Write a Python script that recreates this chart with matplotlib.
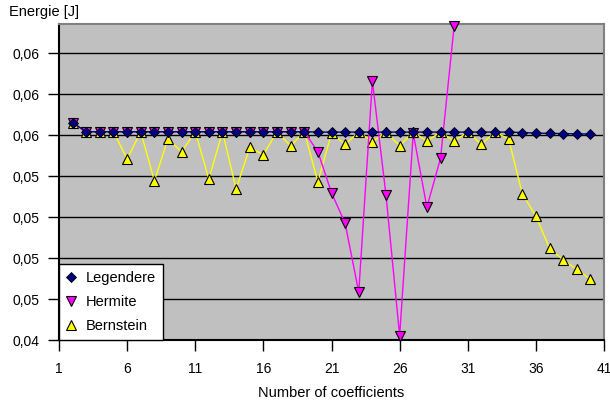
import matplotlib.pyplot as plt
from matplotlib.lines import Line2D

plt.rcParams['font.family'] = ['Liberation Sans', 'DejaVu Sans']

# data
n_leg = list(range(2, 41))
legendre = [0.05575] + [0.05520] * 17 + [0.05518] * 15 + [0.05515, 0.05512, 0.05510, 0.05509, 0.05507, 0.05506]

n_her = list(range(2, 31))
hermite = [0.05575] + [0.05520] * 17 + [0.05398, 0.05148, 0.04962, 0.04541, 0.05829, 0.05134,
                                        0.04276, 0.05510, 0.05059, 0.05358, 0.06165]

n_ber = list(range(2, 41))
bernstein = [0.05575, 0.05520, 0.05520, 0.05520, 0.05354, 0.05520, 0.05221, 0.05476, 0.05398,
             0.05520, 0.05232, 0.05520, 0.05171, 0.05425, 0.05380, 0.05520, 0.05433, 0.05520,
             0.05215, 0.05510, 0.05443, 0.05518, 0.05459, 0.05518, 0.05435, 0.05518, 0.05463,
             0.05518, 0.05463, 0.05518, 0.05443, 0.05518, 0.05476, 0.05142, 0.05006, 0.04809,
             0.04738, 0.04681, 0.04620]

yticks = [0.0425, 0.045, 0.0475, 0.05, 0.0525, 0.055, 0.0575, 0.06]
ytick_labels = ['0,04', '0,05', '0,05', '0,05', '0,05', '0,06', '0,06', '0,06']
xticks = [1, 6, 11, 16, 21, 26, 31, 36, 41]

fig = plt.figure(figsize=(6.1, 4.07), dpi=100)
ax = fig.add_axes([0.0967, 0.1646, 0.8935, 0.7764])
ax.set_facecolor('#C0C0C0')

ax.plot(n_ber, bernstein, color='#FFFF00', lw=1, marker='^', ms=6.5,
        mfc='#FFFF00', mec='black', mew=0.8, zorder=3)
ax.plot(n_her, hermite, color='#FF00FF', lw=1, marker='v', ms=6.5,
        mfc='#FF00FF', mec='black', mew=0.8, zorder=4, clip_on=False)
ax.plot(n_leg, legendre, color='#000080', lw=1, marker='D', ms=5,
        mfc='#000080', mec='black', mew=0.6, zorder=5)

ax.set_xlim(1, 41)
ax.set_ylim(0.0425, 0.06177)
ax.set_xticks(xticks)
ax.set_yticks(yticks)
ax.set_yticklabels(ytick_labels)
ax.grid(axis='y', color='black', lw=1)
ax.set_axisbelow(True)
ax.tick_params(axis='both', direction='out', length=8, width=1, labelsize=10, colors='black')
ax.tick_params(axis='x', pad=8)
ax.tick_params(axis='y', pad=6)

ax.spines['left'].set_color('black')
ax.spines['bottom'].set_color('black')
ax.spines['top'].set_color('#808080')
ax.spines['right'].set_color('#808080')
for s in ax.spines.values():
    s.set_linewidth(1.5)

ax.set_xlabel('Number of coefficients', fontsize=10.5, labelpad=7)
fig.text(0.014, 0.988, 'Energie [J]', fontsize=10.5, va='top', ha='left')

handles = [
    Line2D([], [], ls='none', marker='D', ms=5, mfc='#000080', mec='black', mew=0.6),
    Line2D([], [], ls='none', marker='v', ms=6.5, mfc='#FF00FF', mec='black', mew=0.8),
    Line2D([], [], ls='none', marker='^', ms=6.5, mfc='#FFFF00', mec='black', mew=0.8),
]
leg = ax.legend(handles, ['Legendere', 'Hermite', 'Bernstein'], loc='lower left',
                bbox_to_anchor=(0, 0), borderaxespad=0, fontsize=10.5, fancybox=False,
                framealpha=1, edgecolor='black', handlelength=0.8, handletextpad=0.6,
                labelspacing=0.7, borderpad=0.45)
leg.get_frame().set_linewidth(1)
leg.set_zorder(10)

fig.savefig('out.png', dpi=100)
